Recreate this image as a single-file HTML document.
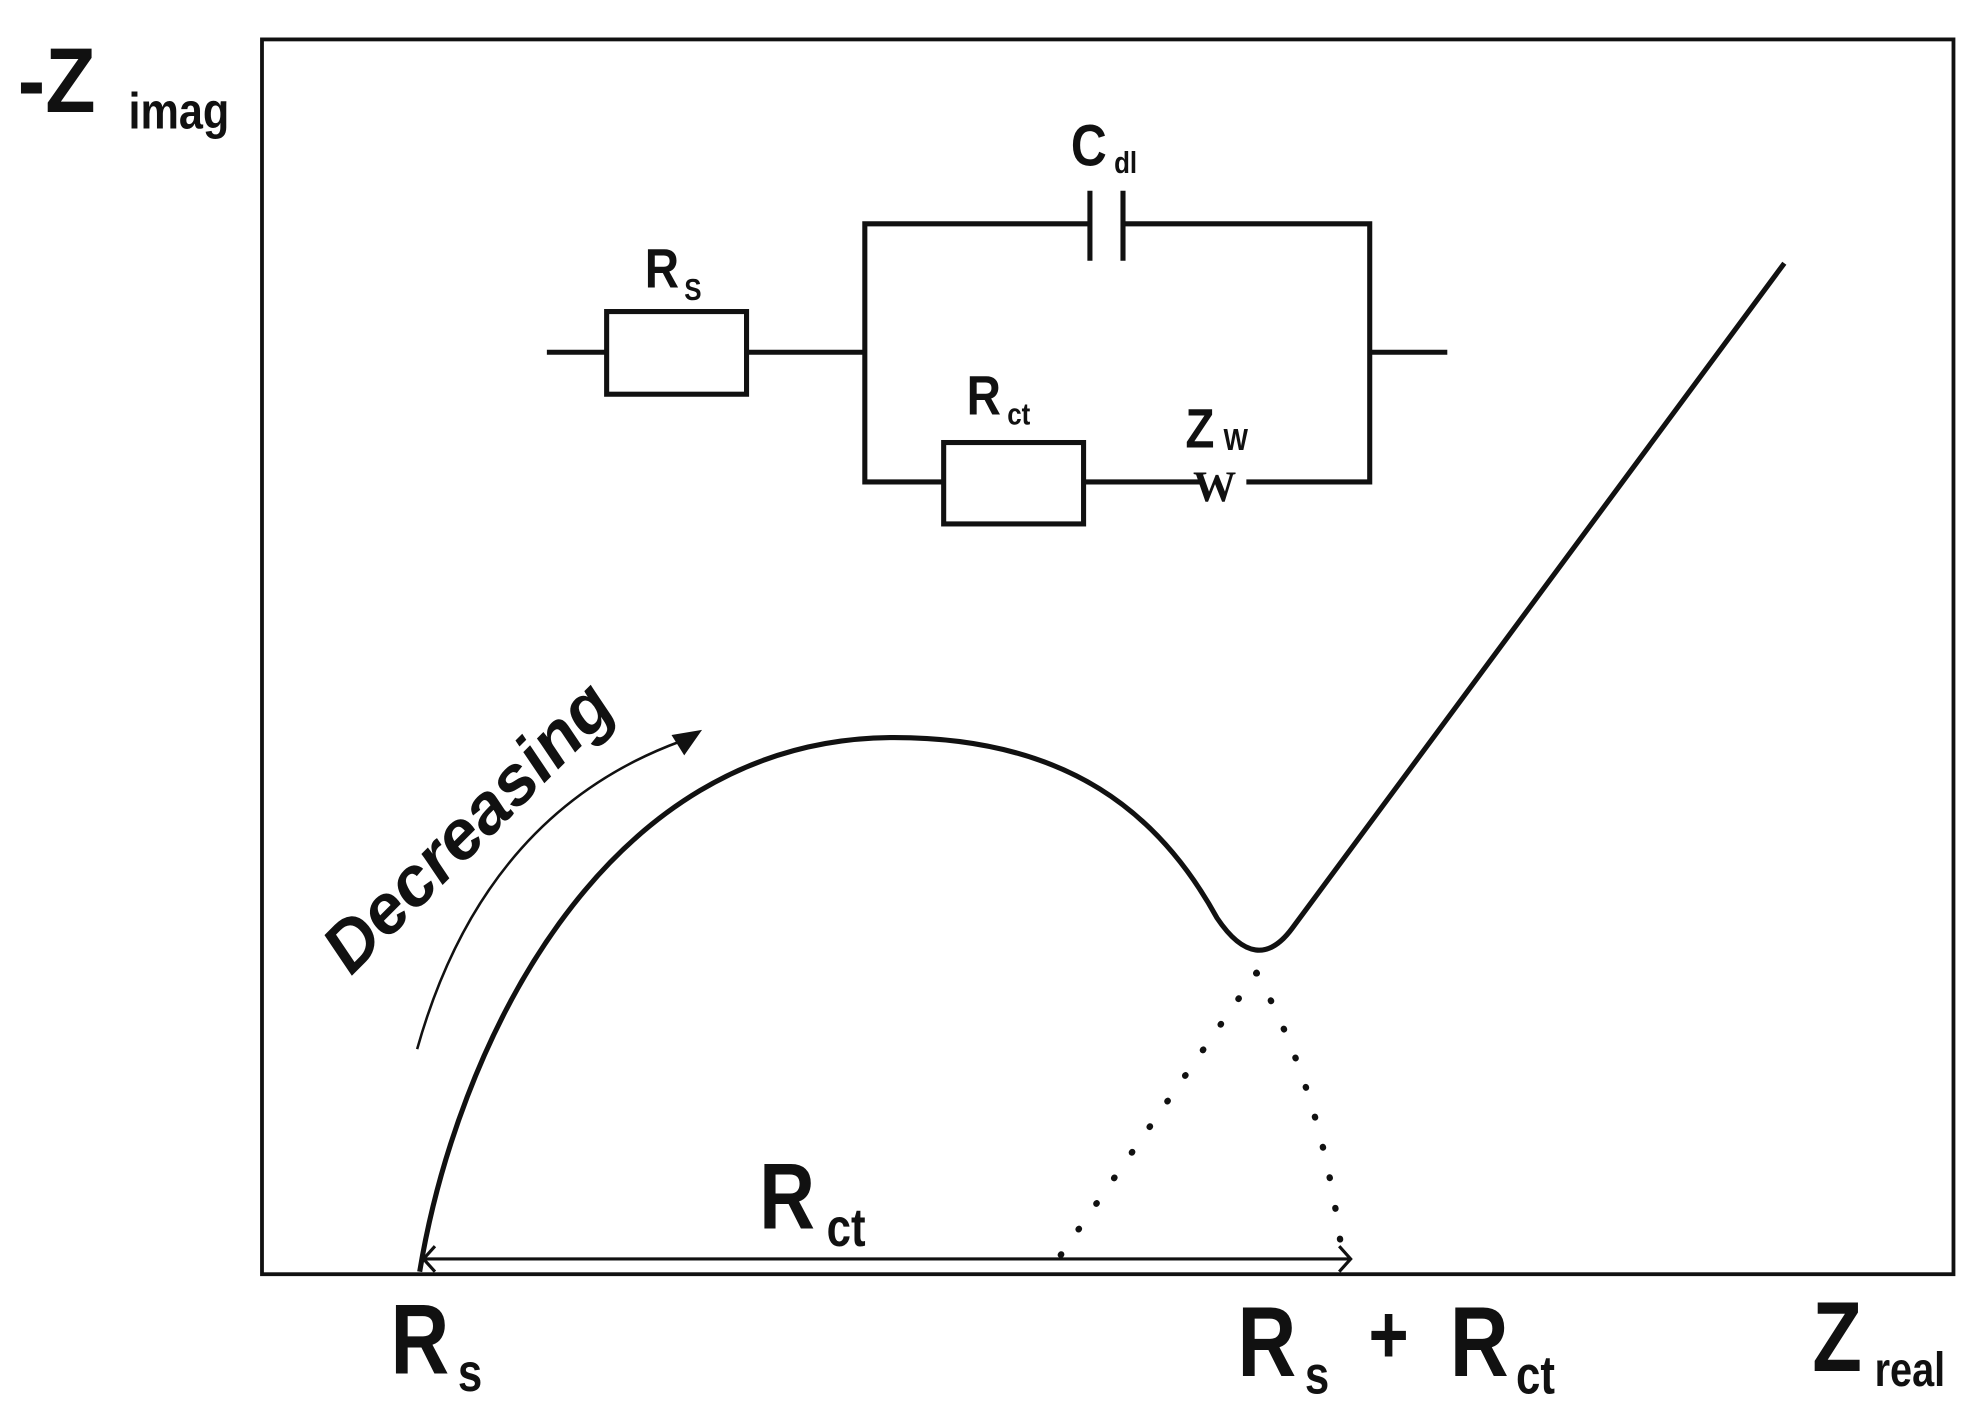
<!DOCTYPE html>
<html><head><meta charset="utf-8"><style>html,body{margin:0;padding:0;background:#fff}svg{display:block}</style></head>
<body>
<svg width="1984" height="1409" viewBox="0 0 1560 1108" preserveAspectRatio="none" xmlns="http://www.w3.org/2000/svg" font-family="Liberation Sans, sans-serif" font-weight="bold" fill="#111">
<rect x="206" y="31" width="1330" height="971" fill="none" stroke="#111" stroke-width="3"/>
<g transform="translate(14,88) scale(0.9,1)"><text font-size="72">-Z</text></g>
<g transform="translate(101,101) scale(0.85,1)"><text font-size="40">imag</text></g>
<!-- circuit -->
<g stroke="#111" stroke-width="4" fill="none">
<line x1="430" y1="277" x2="476" y2="277"/>
<rect x="477" y="245" width="110" height="65"/>
<line x1="588" y1="277" x2="680" y2="277"/>
<polyline points="857,176 680,176 680,379 741,379"/>
<polyline points="883,176 1077,176 1077,379 980,379"/>
<line x1="857" y1="150" x2="857" y2="205"/>
<line x1="883" y1="150" x2="883" y2="205"/>
<line x1="1077" y1="277" x2="1138" y2="277"/>
<rect x="742" y="348" width="110" height="64"/>
<line x1="853" y1="379" x2="945" y2="379"/>
</g>
<text x="938" y="394" font-family="Liberation Serif, serif" font-size="34">W</text>
<g transform="translate(507,226) scale(0.85,1)"><text font-size="44">R</text></g>
<g transform="translate(538,236) scale(0.85,1)"><text font-size="24">S</text></g>
<g transform="translate(842,130) scale(0.85,1)"><text font-size="46">C</text></g>
<g transform="translate(876,136) scale(0.85,1)"><text font-size="24">dl</text></g>
<g transform="translate(760,326) scale(0.85,1)"><text font-size="44">R</text></g>
<g transform="translate(792,334) scale(0.85,1)"><text font-size="24">ct</text></g>
<g transform="translate(932,352) scale(0.85,1)"><text font-size="44">Z</text></g>
<g transform="translate(962,354) scale(0.85,1)"><text font-size="24">W</text></g>
<!-- curve -->
<path d="M330,1000 C358,830 470,580 703,580 C840,580 912,640 957,722 Q988,768 1016,730 L1403,207" fill="none" stroke="#111" stroke-width="4"/>
<!-- dotted -->
<g stroke="#111" stroke-width="5" stroke-linecap="round" stroke-dasharray="0.5 24" fill="none">
<path d="M988,765 L825,1000"/>
<path d="M988,765 Q1040,860 1055,985"/>
</g>
<!-- decreasing -->
<path d="M328,825 Q380,640 535,583" fill="none" stroke="#111" stroke-width="2"/>
<polygon points="552,574 528,578 538,594" fill="#111"/>
<g transform="translate(276,768) rotate(-45)"><text font-size="55" font-style="italic">Decreasing</text></g>
<!-- Rct arrow -->
<line x1="333" y1="990" x2="1062" y2="990" stroke="#111" stroke-width="2.5"/>
<polyline points="342,980 333,990 342,1000" fill="none" stroke="#111" stroke-width="2.5"/>
<polyline points="1053,980 1062,990 1053,1000" fill="none" stroke="#111" stroke-width="2.5"/>
<g transform="translate(597,966) scale(0.82,1)"><text font-size="74">R</text></g>
<g transform="translate(650,980) scale(0.82,1)"><text font-size="42">ct</text></g>
<!-- bottom -->
<g transform="translate(307,1080) scale(0.82,1)"><text font-size="78">R</text></g>
<g transform="translate(360,1094) scale(0.82,1)"><text font-size="42">s</text></g>
<g transform="translate(973,1082) scale(0.82,1)"><text font-size="78">R</text></g>
<g transform="translate(1026,1096) scale(0.82,1)"><text font-size="42">s</text></g>
<g transform="translate(1076,1072) scale(0.82,1)"><text font-size="66">+</text></g>
<g transform="translate(1140,1082) scale(0.82,1)"><text font-size="78">R</text></g>
<g transform="translate(1192,1096) scale(0.82,1)"><text font-size="42">ct</text></g>
<g transform="translate(1425,1078) scale(0.82,1)"><text font-size="78">Z</text></g>
<g transform="translate(1474,1090) scale(0.82,1)"><text font-size="38">real</text></g>
</svg>
</body></html>
